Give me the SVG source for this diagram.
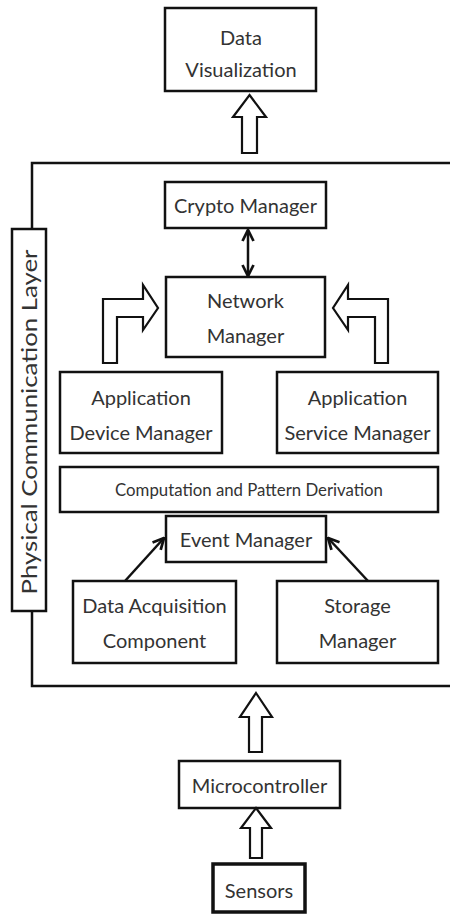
<svg xmlns="http://www.w3.org/2000/svg" width="450" height="915" viewBox="0 0 450 915">
  <style>
    .box { fill: #ffffff; stroke: #111111; stroke-width: 2.5; }
    .thick { stroke-width: 3.5; }
    .frame { fill: none; stroke: #111111; stroke-width: 2.5; }
    .block { fill: #ffffff; stroke: #111111; stroke-width: 2.2; stroke-linejoin: miter; }
    .line { fill: none; stroke: #111111; stroke-width: 2.5; }
    text { font-family: Lato, "Open Sans", "Liberation Sans", sans-serif; fill: #333333; text-anchor: middle; }
    .t20 { font-size: 20px; }
    .t17 { font-size: 16.8px; }
    .t22 { font-size: 22px; }
  </style>
  <defs>
    <marker id="vhead" viewBox="0 0 10 10" refX="9" refY="5" markerWidth="5.5" markerHeight="5.5" orient="auto-start-reverse" markerUnits="strokeWidth">
      <path d="M1,1 L9,5 L1,9" fill="none" stroke="#111111" stroke-width="2"/>
    </marker>
  </defs>

  <rect width="450" height="915" fill="#ffffff"/>

  <!-- enclosing frame (open on the right) -->
  <g id="frame">
    <path class="frame" d="M450,163 H32 V229 M32,611 V686 H450"/>
  </g>

  <g id="physical-layer">
    <rect class="box" x="12" y="229" width="34" height="382"/>
    <text class="t22" transform="translate(37,422) rotate(-90)" textLength="345" lengthAdjust="spacingAndGlyphs">Physical Communication Layer</text>
  </g>

  <g id="data-visualization">
    <rect class="box" x="165" y="8" width="151" height="83"/>
    <text class="t20" x="241" y="45">Data</text>
    <text class="t20" x="241" y="77">Visualization</text>
  </g>

  <g id="crypto-manager">
    <rect class="box" x="165" y="182" width="161" height="46"/>
    <text class="t20" x="245.5" y="213">Crypto Manager</text>
  </g>

  <g id="network-manager">
    <rect class="box" x="166" y="277" width="159" height="80"/>
    <text class="t20" x="245.5" y="308">Network</text>
    <text class="t20" x="245.5" y="343">Manager</text>
  </g>

  <g id="application-device-manager">
    <rect class="box" x="60" y="372" width="162" height="81"/>
    <text class="t20" x="141" y="405">Application</text>
    <text class="t20" x="141" y="440">Device Manager</text>
  </g>

  <g id="application-service-manager">
    <rect class="box" x="277" y="372" width="161" height="81"/>
    <text class="t20" x="357.5" y="405">Application</text>
    <text class="t20" x="357.5" y="440">Service Manager</text>
  </g>

  <g id="computation-pattern-derivation">
    <rect class="box" x="60" y="467" width="378" height="45"/>
    <text class="t17" x="249" y="496">Computation and Pattern Derivation</text>
  </g>

  <g id="event-manager">
    <rect class="box" x="166" y="516" width="160" height="46"/>
    <text class="t20" x="246" y="547">Event Manager</text>
  </g>

  <g id="data-acquisition-component">
    <rect class="box" x="73" y="581" width="163" height="82"/>
    <text class="t20" x="154.5" y="613">Data Acquisition</text>
    <text class="t20" x="154.5" y="648">Component</text>
  </g>

  <g id="storage-manager">
    <rect class="box" x="277" y="581" width="161" height="82"/>
    <text class="t20" x="357.5" y="613">Storage</text>
    <text class="t20" x="357.5" y="648">Manager</text>
  </g>

  <g id="microcontroller">
    <rect class="box" x="179" y="761" width="161" height="47"/>
    <text class="t20" x="259.5" y="793">Microcontroller</text>
  </g>

  <g id="sensors">
    <rect class="box thick" x="213" y="864" width="92" height="48"/>
    <text class="t20" x="259" y="898">Sensors</text>
  </g>

  <g id="connectors">
    <!-- hollow block arrows -->
    <polygon class="block" points="249.5,95 266,117 257,117 257,153 242,153 242,117 233,117"/>
    <polygon class="block" points="103,363 103,299 143,299 143,285 158,308 143,330 143,317 117,317 117,363"/>
    <polygon class="block" points="388,363 388,299 348,299 348,285 333,308 348,330 348,317 375,317 375,363"/>
    <polygon class="block" points="256,693 272,717 262,717 262,752 249,752 249,717 240,717"/>
    <polygon class="block" points="256,808 271,828 262,828 262,858 250,858 250,828 241,828"/>
    <!-- line arrows -->
    <line class="line" x1="248" y1="230" x2="248" y2="276" marker-start="url(#vhead)" marker-end="url(#vhead)"/>
    <line class="line" x1="125" y1="581" x2="164" y2="538" marker-end="url(#vhead)"/>
    <line class="line" x1="368" y1="581" x2="328" y2="538" marker-end="url(#vhead)"/>
  </g>
</svg>
